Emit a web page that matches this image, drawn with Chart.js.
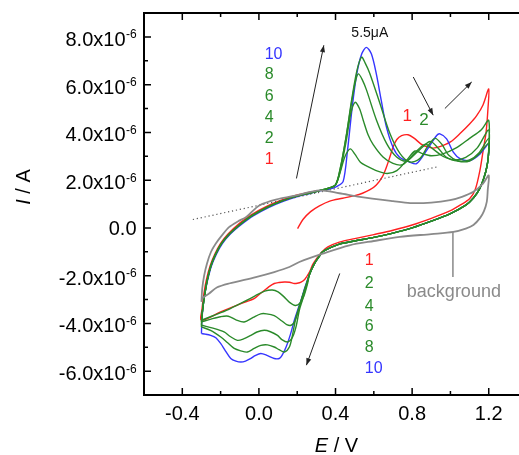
<!DOCTYPE html>
<html>
<head>
<meta charset="utf-8">
<script src="https://cdn.jsdelivr.net/npm/chart.js@4.4.1/dist/chart.umd.min.js"></script>
<style>
  html, body { margin: 0; padding: 0; background: #fff; }
</style>
</head>
<body>
<canvas id="chart" width="519" height="455"></canvas>
<script>
// current values are in units of 1e-6 A (the axis is labelled in x10^-6)
const xTickValues = [-0.6, -0.4, -0.2, 0.0, 0.2, 0.4, 0.6, 0.8, 1.0, 1.2];
const xMajor = [-0.4, 0.0, 0.4, 0.8, 1.2];
const yTickValues = [-7, -6, -5, -4, -3, -2, -1, 0, 1, 2, 3, 4, 5, 6, 7, 8, 9];
const yMajor = [-6, -4, -2, 0, 2, 4, 6, 8];

// background CV (gray)
const bgCurve = [
  [-0.300, -3.10], [-0.296, -2.55], [-0.286, -2.00], [-0.271, -1.49], [-0.250, -1.00], [-0.225, -0.65],
  [-0.190, -0.28], [-0.156, 0.03], [-0.110, 0.27], [-0.066, 0.46], [0.004, 0.95], [0.106, 1.22],
  [0.196, 1.36], [0.316, 1.57], [0.420, 1.45], [0.527, 1.30], [0.700, 1.12], [0.790, 1.04],
  [0.900, 1.06], [0.998, 1.16], [1.060, 1.30], [1.120, 1.51], [1.170, 1.85], [1.200, 2.20],
  [1.195, 1.60], [1.190, 1.10], [1.175, 0.70], [1.155, 0.42], [1.120, 0.12], [1.080, -0.03],
  [1.015, -0.17], [0.900, -0.26], [0.735, -0.38], [0.600, -0.55], [0.473, -0.73], [0.333, -1.08],
  [0.211, -1.43], [0.159, -1.64], [0.080, -1.85], [-0.016, -2.06], [-0.156, -2.33], [-0.220, -2.50],
  [-0.260, -2.75], [-0.296, -2.95], [-0.300, -3.10]
];

// cycle 1 (red)
const cycle1 = [
  [0.202, -0.03], [0.230, 0.35], [0.270, 0.68], [0.316, 0.92], [0.370, 1.12], [0.437, 1.24],
  [0.500, 1.35], [0.541, 1.45], [0.580, 1.60], [0.613, 1.80], [0.645, 2.15], [0.666, 2.55],
  [0.685, 3.00], [0.700, 3.38], [0.720, 3.70], [0.745, 3.86], [0.779, 3.90], [0.810, 3.76],
  [0.845, 3.52], [0.875, 3.40], [0.910, 3.34], [0.945, 3.40], [1.000, 3.60], [1.050, 3.95],
  [1.100, 4.35], [1.137, 4.70], [1.170, 5.15], [1.200, 5.82],
  [1.196, 5.00], [1.186, 4.00], [1.172, 3.30], [1.155, 2.45], [1.130, 1.62], [1.100, 1.22],
  [1.050, 0.95], [1.000, 0.72], [0.900, 0.40], [0.800, 0.12], [0.700, -0.10], [0.600, -0.28],
  [0.500, -0.45], [0.420, -0.60], [0.360, -0.80], [0.330, -1.00], [0.300, -1.30], [0.280, -1.55],
  [0.264, -1.85], [0.240, -2.15], [0.220, -2.27], [0.200, -2.32], [0.185, -2.33], [0.160, -2.28],
  [0.133, -2.27], [0.105, -2.29], [0.080, -2.33], [0.050, -2.48], [0.028, -2.62], [0.000, -2.80],
  [-0.025, -2.96], [-0.094, -3.17], [-0.200, -3.52], [-0.300, -3.87],
  [-0.297, -3.40], [-0.288, -2.80], [-0.275, -2.20], [-0.255, -1.60], [-0.230, -1.10], [-0.200, -0.65],
  [-0.160, -0.25], [-0.100, 0.20], [-0.040, 0.55], [0.040, 0.90], [0.120, 1.17], [0.200, 1.38],
  [0.300, 1.55]
];

// branches shared by cycles 2-8 (green)
const greenLeftBranch = [
  [-0.298, -3.75], [-0.292, -3.30], [-0.283, -2.80], [-0.270, -2.20], [-0.251, -1.60], [-0.226, -1.10],
  [-0.195, -0.65], [-0.153, -0.25], [-0.094, 0.17], [-0.034, 0.52], [0.045, 0.87], [0.125, 1.14],
  [0.205, 1.35], [0.270, 1.47], [0.316, 1.56], [0.360, 1.65], [0.400, 1.80]
];
const returnBranch = [
  [1.198, 3.00], [1.190, 2.55], [1.175, 2.10], [1.150, 1.60], [1.120, 1.25], [1.080, 0.95],
  [1.000, 0.60], [0.900, 0.28], [0.800, 0.00], [0.700, -0.22], [0.600, -0.40], [0.500, -0.55],
  [0.420, -0.68], [0.360, -0.88], [0.330, -1.02], [0.316, -1.18], [0.290, -1.50], [0.264, -1.95]
];

const cycle2Anodic = [
  [0.425, 2.35], [0.450, 3.00], [0.477, 3.31], [0.500, 3.10], [0.530, 2.75], [0.561, 2.60],
  [0.620, 2.38], [0.670, 2.28], [0.720, 2.40], [0.770, 2.82], [0.815, 3.22], [0.850, 3.12],
  [0.900, 3.02], [0.960, 3.10], [1.030, 3.35], [1.100, 3.75], [1.160, 4.10], [1.200, 4.50]
];
const cycle2Cathodic = [
  [0.255, -2.30], [0.235, -2.85], [0.215, -3.15], [0.190, -3.25], [0.160, -3.12], [0.130, -2.88],
  [0.100, -2.68], [0.070, -2.60], [0.030, -2.65], [-0.020, -2.85], [-0.080, -3.10], [-0.160, -3.42],
  [-0.240, -3.68], [-0.300, -3.87]
];

const cycle4Anodic = [
  [0.425, 2.40], [0.455, 3.60], [0.480, 4.80], [0.502, 5.26], [0.525, 5.00], [0.545, 4.50],
  [0.570, 3.90], [0.596, 3.50], [0.648, 2.97], [0.700, 2.70], [0.750, 2.65], [0.810, 3.10],
  [0.866, 3.50], [0.910, 3.30], [0.960, 3.00], [1.020, 2.85], [1.080, 2.95], [1.140, 3.35],
  [1.200, 4.10]
];
const cycle4Cathodic = [
  [0.250, -2.35], [0.237, -2.62], [0.218, -3.10], [0.202, -3.59], [0.185, -3.95], [0.168, -4.08],
  [0.145, -4.05], [0.120, -3.90], [0.080, -3.68], [0.040, -3.60], [0.010, -3.60], [-0.030, -3.75],
  [-0.077, -3.94], [-0.120, -3.85], [-0.160, -3.70], [-0.200, -3.72], [-0.250, -3.82], [-0.300, -3.94]
];

const cycle6Anodic = [
  [0.425, 2.50], [0.455, 3.80], [0.485, 5.30], [0.503, 6.10], [0.519, 6.45], [0.540, 6.20],
  [0.562, 5.77], [0.614, 4.51], [0.667, 3.53], [0.719, 2.97], [0.770, 2.80], [0.830, 3.20],
  [0.893, 3.62], [0.935, 3.35], [0.980, 2.95], [1.040, 2.80], [1.100, 2.85], [1.150, 3.15],
  [1.200, 3.75]
];
const cycle6Cathodic = [
  [0.246, -2.48], [0.228, -3.00], [0.211, -3.45], [0.195, -4.10], [0.176, -4.57], [0.150, -4.78],
  [0.120, -4.68], [0.097, -4.50], [0.060, -4.35], [0.028, -4.29], [-0.010, -4.36], [-0.042, -4.50],
  [-0.080, -4.65], [-0.112, -4.71], [-0.150, -4.55], [-0.182, -4.36], [-0.240, -4.20], [-0.300, -4.08]
];

const cycle8Anodic = [
  [0.425, 2.50], [0.455, 3.80], [0.485, 5.40], [0.512, 6.60], [0.536, 7.15], [0.555, 6.90],
  [0.579, 6.47], [0.632, 5.21], [0.684, 3.95], [0.736, 3.12], [0.788, 2.76], [0.840, 2.90],
  [0.880, 3.40], [0.919, 3.75], [0.955, 3.50], [0.990, 3.05], [1.040, 2.80], [1.100, 2.80],
  [1.150, 3.10], [1.200, 3.55]
];
const cycle8Cathodic = [
  [0.237, -2.62], [0.215, -3.20], [0.194, -3.73], [0.175, -4.50], [0.159, -4.99], [0.133, -5.20],
  [0.105, -5.10], [0.080, -4.99], [0.045, -4.90], [0.010, -4.92], [-0.025, -5.05], [-0.060, -5.20],
  [-0.095, -5.15], [-0.129, -5.05], [-0.165, -4.80], [-0.199, -4.57], [-0.250, -4.30], [-0.300, -4.15]
];

// cycle 10 (blue)
const cycle10Left = [
  [-0.300, -4.43], [-0.298, -3.90], [-0.293, -3.40], [-0.283, -2.80], [-0.268, -2.20], [-0.248, -1.60],
  [-0.222, -1.10], [-0.190, -0.65], [-0.148, -0.25], [-0.090, 0.15], [-0.030, 0.50], [0.050, 0.85],
  [0.130, 1.12], [0.210, 1.33], [0.270, 1.45], [0.316, 1.55], [0.370, 1.62], [0.410, 1.75]
];
const cycle10Anodic = [
  [0.440, 1.95], [0.462, 3.20], [0.487, 5.05], [0.511, 6.45], [0.537, 7.29], [0.561, 7.56],
  [0.587, 7.29], [0.613, 6.45], [0.639, 5.33], [0.666, 4.22], [0.700, 3.38], [0.735, 2.96],
  [0.788, 2.75], [0.823, 2.69], [0.875, 3.24], [0.928, 3.87], [0.945, 3.94], [0.980, 3.73],
  [1.015, 3.17], [1.050, 2.90], [1.102, 2.82], [1.155, 3.10], [1.200, 3.52]
];
const cycle10Cathodic = [
  [0.240, -2.50], [0.220, -3.03], [0.200, -3.50], [0.185, -3.87], [0.165, -4.45], [0.142, -4.99],
  [0.120, -5.35], [0.106, -5.47], [0.080, -5.47], [0.045, -5.35], [0.010, -5.26], [-0.020, -5.35],
  [-0.042, -5.47], [-0.070, -5.58], [-0.094, -5.62], [-0.120, -5.58], [-0.147, -5.47], [-0.175, -5.15],
  [-0.199, -4.85], [-0.225, -4.60], [-0.252, -4.50], [-0.280, -4.45], [-0.300, -4.43]
];

// guide lines
const baseline = [[-0.345, 0.35], [0.928, 2.55]];
const bgPointer = [[1.013, -0.17], [1.013, -2.06]];
const arrows = [
  [[0.196, 2.07], [0.339, 7.65]],
  [[0.806, 6.32], [0.910, 4.72]],
  [[0.971, 5.00], [1.111, 6.11]],
  [[0.422, -1.91], [0.248, -5.75]]
];

const RED = '#ff2020', GREEN = '#2a8a2a', BLUE = '#3535ff', GRAY = '#8a8a8a';
const FONT = "'Liberation Sans', Arial, sans-serif";

// text notes, placed in data coordinates
const notes = [
  { text: '5.5\u03bcA', x: 0.579, y: 8.15, color: '#111', size: 14, align: 'center' },
  { text: '10', x: 0.030, y: 7.27, color: BLUE, size: 16, align: 'left' },
  { text: '8', x: 0.030, y: 6.43, color: GREEN, size: 16, align: 'left' },
  { text: '6', x: 0.030, y: 5.51, color: GREEN, size: 16, align: 'left' },
  { text: '4', x: 0.030, y: 4.61, color: GREEN, size: 16, align: 'left' },
  { text: '2', x: 0.030, y: 3.73, color: GREEN, size: 16, align: 'left' },
  { text: '1', x: 0.030, y: 2.87, color: RED, size: 16, align: 'left' },
  { text: '1', x: 0.775, y: 4.68, color: RED, size: 17, align: 'center' },
  { text: '2', x: 0.862, y: 4.51, color: GREEN, size: 17, align: 'center' },
  { text: '1', x: 0.553, y: -1.39, color: RED, size: 16, align: 'left' },
  { text: '2', x: 0.553, y: -2.35, color: GREEN, size: 16, align: 'left' },
  { text: '4', x: 0.553, y: -3.28, color: GREEN, size: 16, align: 'left' },
  { text: '6', x: 0.553, y: -4.12, color: GREEN, size: 16, align: 'left' },
  { text: '8', x: 0.553, y: -5.02, color: GREEN, size: 16, align: 'left' },
  { text: '10', x: 0.553, y: -5.90, color: BLUE, size: 16, align: 'left' },
  { text: 'background', x: 1.018, y: -2.69, color: GRAY, size: 18, align: 'center' }
];

const pts = arr => arr.map(([x, y]) => ({ x, y }));
const curve = (label, data, color, width) => ({
  label, data: pts(data), showLine: true, borderColor: color, borderWidth: width,
  pointRadius: 0, tension: 0.3, fill: false
});
const straight = (label, data, color, width, dash) => ({
  label, data: pts(data), showLine: true, borderColor: color, borderWidth: width,
  borderDash: dash || [], pointRadius: 0, tension: 0, fill: false
});

const datasets = [
  curve('background', bgCurve, GRAY, 1.8),
  straight('baseline', baseline, '#555', 1.2, [1.2, 2.8]),
  curve('2', [[-0.300, -3.87], ...greenLeftBranch, ...cycle2Anodic, ...returnBranch, ...cycle2Cathodic], GREEN, 1.4),
  curve('4', [[-0.300, -3.94], ...greenLeftBranch, ...cycle4Anodic, ...returnBranch, ...cycle4Cathodic], GREEN, 1.4),
  curve('6', [[-0.300, -4.08], ...greenLeftBranch, ...cycle6Anodic, ...returnBranch, ...cycle6Cathodic], GREEN, 1.4),
  curve('8', [[-0.300, -4.15], ...greenLeftBranch, ...cycle8Anodic, ...returnBranch, ...cycle8Cathodic], GREEN, 1.4),
  curve('10', [...cycle10Left, ...cycle10Anodic, ...returnBranch, ...cycle10Cathodic], BLUE, 1.4),
  curve('1', cycle1, RED, 1.4),
  straight('pointer', bgPointer, '#777', 1.3),
  ...arrows.map((a, i) => straight('arrow' + i, a, '#222', 1))
];

const isMajor = (v, list) => list.some(m => Math.abs(m - v) < 1e-6);

// ticks, y labels with exponent, axis titles, arrowheads and notes
const decor = {
  id: 'decor',
  afterDatasetsDraw(chart) {
    const { ctx, scales: { x, y } } = chart;
    ctx.save();
    ctx.fillStyle = '#222';
    arrows.forEach(([p, q]) => {
      const x0 = x.getPixelForValue(p[0]), y0 = y.getPixelForValue(p[1]);
      const x1 = x.getPixelForValue(q[0]), y1 = y.getPixelForValue(q[1]);
      const a = Math.atan2(y1 - y0, x1 - x0), L = 7, W = 2.6;
      ctx.beginPath();
      ctx.moveTo(x1, y1);
      ctx.lineTo(x1 - L * Math.cos(a) + W * Math.sin(a), y1 - L * Math.sin(a) - W * Math.cos(a));
      ctx.lineTo(x1 - L * Math.cos(a) - W * Math.sin(a), y1 - L * Math.sin(a) + W * Math.cos(a));
      ctx.closePath();
      ctx.fill();
    });
    ctx.textBaseline = 'middle';
    notes.forEach(n => {
      ctx.font = n.size + 'px ' + FONT;
      ctx.fillStyle = n.color;
      ctx.textAlign = n.align;
      ctx.fillText(n.text, x.getPixelForValue(n.x), y.getPixelForValue(n.y));
    });
    ctx.restore();
  },
  afterDraw(chart) {
    const { ctx, chartArea: area, scales: { x, y } } = chart;
    ctx.save();
    ctx.strokeStyle = '#000';
    ctx.lineWidth = 1.5;
    ctx.beginPath();
    xTickValues.forEach(v => {
      const px = x.getPixelForValue(v);
      const len = isMajor(v, xMajor) ? 7 : 4;
      ctx.moveTo(px, area.bottom); ctx.lineTo(px, area.bottom - len);
      ctx.moveTo(px, area.top); ctx.lineTo(px, area.top + len);
    });
    yTickValues.forEach(v => {
      const py = y.getPixelForValue(v);
      const len = isMajor(v, yMajor) ? 7 : 4;
      ctx.moveTo(area.left, py); ctx.lineTo(area.left + len, py);
    });
    ctx.stroke();

    ctx.fillStyle = '#000';
    ctx.textBaseline = 'alphabetic';
    yMajor.forEach(v => {
      const py = y.getPixelForValue(v);
      if (v === 0) {
        ctx.font = '20px ' + FONT;
        ctx.textAlign = 'right';
        ctx.fillText('0.0', 136.5, py + 7);
        return;
      }
      ctx.font = '20px ' + FONT;
      ctx.textAlign = 'right';
      ctx.fillText((v).toFixed(1) + 'x10', 125.5, py + 9);
      ctx.font = '12px ' + FONT;
      ctx.textAlign = 'left';
      ctx.fillText('-6', 126, py + 1.5);
    });

    // axis titles: italic symbol + unit
    const title = (sym, rest, cx, cy, rot) => {
      ctx.save();
      ctx.translate(cx, cy);
      ctx.rotate(rot);
      ctx.font = 'italic 20px ' + FONT;
      const w1 = ctx.measureText(sym).width;
      ctx.font = '20px ' + FONT;
      const w2 = ctx.measureText(rest).width;
      const start = -(w1 + w2) / 2;
      ctx.textAlign = 'left';
      ctx.font = 'italic 20px ' + FONT;
      ctx.fillText(sym, start, 0);
      ctx.font = '20px ' + FONT;
      ctx.fillText(rest, start + w1, 0);
      ctx.restore();
    };
    title('I', ' / A', 29.5, 187, -Math.PI / 2);
    title('E', ' / V', 336.5, 452, 0);
    ctx.restore();
  }
};

const canvas = document.getElementById('chart');
new Chart(canvas, {
  type: 'scatter',
  data: { datasets },
  options: {
    responsive: false,
    animation: false,
    devicePixelRatio: 1,
    layout: { padding: 0 },
    plugins: { legend: { display: false }, tooltip: { enabled: false } },
    scales: {
      x: {
        type: 'linear', position: 'bottom', min: -0.6, max: 1.358,
        afterBuildTicks: s => { s.ticks = xTickValues.map(v => ({ value: v })); },
        afterFit: s => { s.height = 60; s.paddingLeft = 0; s.paddingRight = 0; },
        grid: { display: false, drawTicks: false, tickLength: 0 },
        border: { display: true, color: '#000', width: 2 },
        ticks: {
          autoSkip: false, maxRotation: 0, padding: 7, color: '#000',
          font: { family: FONT, size: 20 },
          callback: v => isMajor(v, xMajor) ? (Math.abs(v) < 1e-9 ? '0.0' : v.toFixed(1)) : ''
        }
      },
      xTop: {
        type: 'linear', axis: 'x', position: 'top', min: -0.6, max: 1.358,
        afterFit: s => { s.height = 13; s.paddingLeft = 0; s.paddingRight = 0; },
        grid: { display: false, drawTicks: false },
        border: { display: true, color: '#000', width: 2 },
        ticks: { display: false }
      },
      y: {
        type: 'linear', position: 'left', min: -7, max: 9,
        afterBuildTicks: s => { s.ticks = yTickValues.map(v => ({ value: v })); },
        afterFit: s => { s.width = 144; s.paddingTop = 0; s.paddingBottom = 0; },
        grid: { display: false, drawTicks: false },
        border: { display: true, color: '#000', width: 2 },
        ticks: { display: false }
      }
    }
  },
  plugins: [decor]
});
</script>
</body>
</html>
